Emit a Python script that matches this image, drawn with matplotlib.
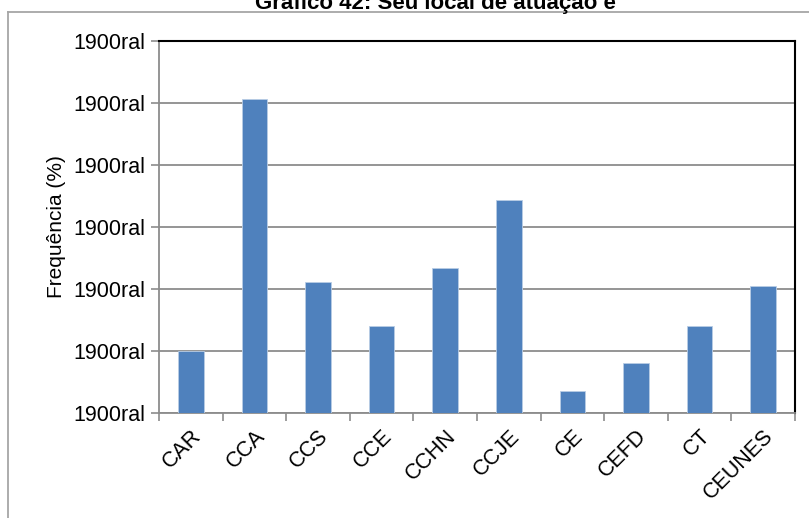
import matplotlib.pyplot as plt
import numpy as np
from matplotlib.lines import Line2D

plt.rcParams['font.family'] = ['Liberation Sans', 'DejaVu Sans']

# data (percent of respondents)
categories = ['CAR', 'CCA', 'CCS', 'CCE', 'CCHN', 'CCJE', 'CE', 'CEFD', 'CT', 'CEUNES']
freq = [5.0, 25.3, 10.6, 7.0, 11.7, 17.2, 1.75, 4.0, 7.0, 10.25]
yticks = [0, 5, 10, 15, 20, 25, 30]
ytick_labels = ['1900ral'] * len(yticks)  # broken number format in the original

fig = plt.figure(figsize=(8.09, 5.18), dpi=100)
ax = fig.add_axes([159 / 809, 105 / 518, 636 / 809, 372 / 518])

x = np.arange(len(categories))
ax.bar(x, freq, width=0.4, color='#4F81BD', edgecolor='#B9CDE5', linewidth=0.6, zorder=3)

ax.set_xlim(-0.5, len(categories) - 0.5)
ax.set_ylim(0, 30)
ax.set_yticks(yticks)
ax.set_yticklabels(ytick_labels, fontsize=15.5)
ax.yaxis.grid(True, color='#8C8C8C', linewidth=1.3, zorder=0)

# category ticks sit on the boundaries, labels at centres
ax.set_xticks(np.arange(len(categories) + 1) - 0.5)
ax.set_xticklabels([])
ax.set_xticks(x, minor=True)
ax.set_xticklabels(categories, minor=True, rotation=45, ha='right',
                   rotation_mode='anchor', fontsize=15.5)
ax.tick_params(axis='x', which='minor', length=0, pad=9)
ax.tick_params(axis='x', which='major', length=6, color='#8C8C8C', width=1.2)
ax.tick_params(axis='y', length=6, color='#8C8C8C', width=1.2, pad=4)

for s in ['left', 'bottom']:
    ax.spines[s].set_color('#8C8C8C')
    ax.spines[s].set_linewidth(1.3)
for s in ['top', 'right']:
    ax.spines[s].set_color('black')
    ax.spines[s].set_linewidth(1.5)

ax.set_ylabel('Frequência (%)', fontsize=15, labelpad=5)

# outer chart border (cut off at the bottom and right)
fig.add_artist(Line2D([8 / 809, 8 / 809], [0, 1 - 12 / 518], color='#A6A6A6', linewidth=1.3))
fig.add_artist(Line2D([8 / 809, 1], [1 - 12 / 518, 1 - 12 / 518], color='#A6A6A6', linewidth=1.3))

# title partly cropped at the top
fig.text(435 / 809, 1 - 3 / 518, 'Gráfico 42: Seu local de atuação é', ha='center', va='center',
         fontsize=16, fontweight='bold')

fig.savefig('out.png', dpi=100)
